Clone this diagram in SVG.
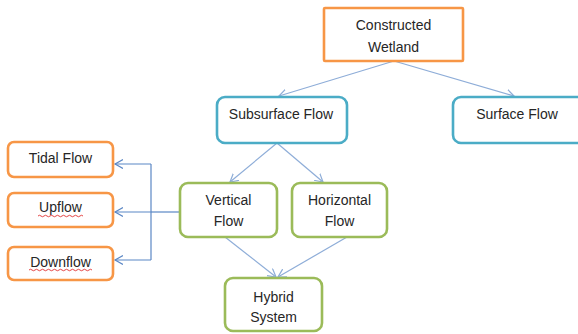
<svg xmlns="http://www.w3.org/2000/svg" width="578" height="334" viewBox="0 0 578 334">
<defs>
<style>
.box{fill:#fff;stroke-width:2.6}
.or{stroke:#F79646}
.tl{stroke:#4BACC6}
.gr{stroke:#9BBB59}
text{font-family:"Liberation Sans",Arial,sans-serif;font-size:14px;fill:#262626;text-anchor:middle}
.c{fill:none;stroke:#8EADD8;stroke-width:1.2}
.cb{fill:none;stroke:#5B87C5;stroke-width:1.2}
.sq{fill:none;stroke:#E03030;stroke-width:0.9}
</style>
<marker id="ar" markerUnits="userSpaceOnUse" markerWidth="12" markerHeight="12" refX="8" refY="5" orient="auto">
<path d="M0,0.5 L8,5 L0,9.5" fill="none" stroke="#8EADD8" stroke-width="1.2"/>
</marker>
<marker id="ab" markerUnits="userSpaceOnUse" markerWidth="12" markerHeight="12" refX="8" refY="5" orient="auto">
<path d="M0,0.5 L8,5 L0,9.5" fill="none" stroke="#5B87C5" stroke-width="1.2"/>
</marker>
</defs>
<g id="connectors">
<path class="c" d="M394,61 L279,96" marker-end="url(#ar)"/>
<path class="c" d="M394,61 L514,96" marker-end="url(#ar)"/>
<path class="c" d="M277,143 L230,182" marker-end="url(#ar)"/>
<path class="c" d="M277,143 L323,182" marker-end="url(#ar)"/>
<path class="c" d="M225,237 L276,277" marker-end="url(#ar)"/>
<path class="c" d="M347,237 L278,277" marker-end="url(#ar)"/>
<path class="cb" d="M180,212 L151,212"/>
<path class="cb" d="M151,164 L151,260"/>
<path class="cb" d="M151,164 L115,164" marker-end="url(#ab)"/>
<path class="cb" d="M151,212 L115,212" marker-end="url(#ab)"/>
<path class="cb" d="M151,260 L115,260" marker-end="url(#ab)"/>
</g>
<g id="constructed-wetland">
<rect class="box or" x="324" y="8" width="139" height="53" rx="1"/>
<text x="393.5" y="30">Constructed</text>
<text x="393.5" y="52">Wetland</text>
</g>
<g id="subsurface-flow">
<rect class="box tl" x="217" y="97" width="130" height="46" rx="8"/>
<text x="281" y="119">Subsurface Flow</text>
</g>
<g id="surface-flow">
<rect class="box tl" x="453" y="97" width="140" height="46" rx="8"/>
<text x="517" y="119">Surface Flow</text>
</g>
<g id="vertical-flow">
<rect class="box gr" x="180" y="183" width="97" height="54" rx="8"/>
<text x="228.5" y="205">Vertical</text>
<text x="228.5" y="226">Flow</text>
</g>
<g id="horizontal-flow">
<rect class="box gr" x="292" y="183" width="95" height="54" rx="8"/>
<text x="339.5" y="205">Horizontal</text>
<text x="339.5" y="226">Flow</text>
</g>
<g id="hybrid-system">
<rect class="box gr" x="225" y="278" width="97" height="53" rx="8"/>
<text x="273.5" y="302">Hybrid</text>
<text x="273.5" y="322">System</text>
</g>
<g id="tidal-flow">
<rect class="box or" x="8" y="142" width="105" height="35" rx="6"/>
<text x="60.5" y="163">Tidal Flow</text>
</g>
<g id="upflow">
<rect class="box or" x="8" y="193" width="105" height="34" rx="6"/>
<text x="60.5" y="212">Upflow</text>
<path class="sq" d="M38,216 q1.5,-1.5 3,0 t3,0 t3,0 t3,0 t3,0 t3,0 t3,0 t3,0 t3,0 t3,0 t3,0 t3,0 t3,0 t3,0 t3,0"/>
</g>
<g id="downflow">
<rect class="box or" x="8" y="247" width="105" height="33" rx="6"/>
<text x="60.5" y="267">Downflow</text>
<path class="sq" d="M29,270 q1.5,-1.5 3,0 t3,0 t3,0 t3,0 t3,0 t3,0 t3,0 t3,0 t3,0 t3,0 t3,0 t3,0 t3,0 t3,0 t3,0 t3,0 t3,0 t3,0 t3,0 t3,0 t3,0"/>
</g>
</svg>
